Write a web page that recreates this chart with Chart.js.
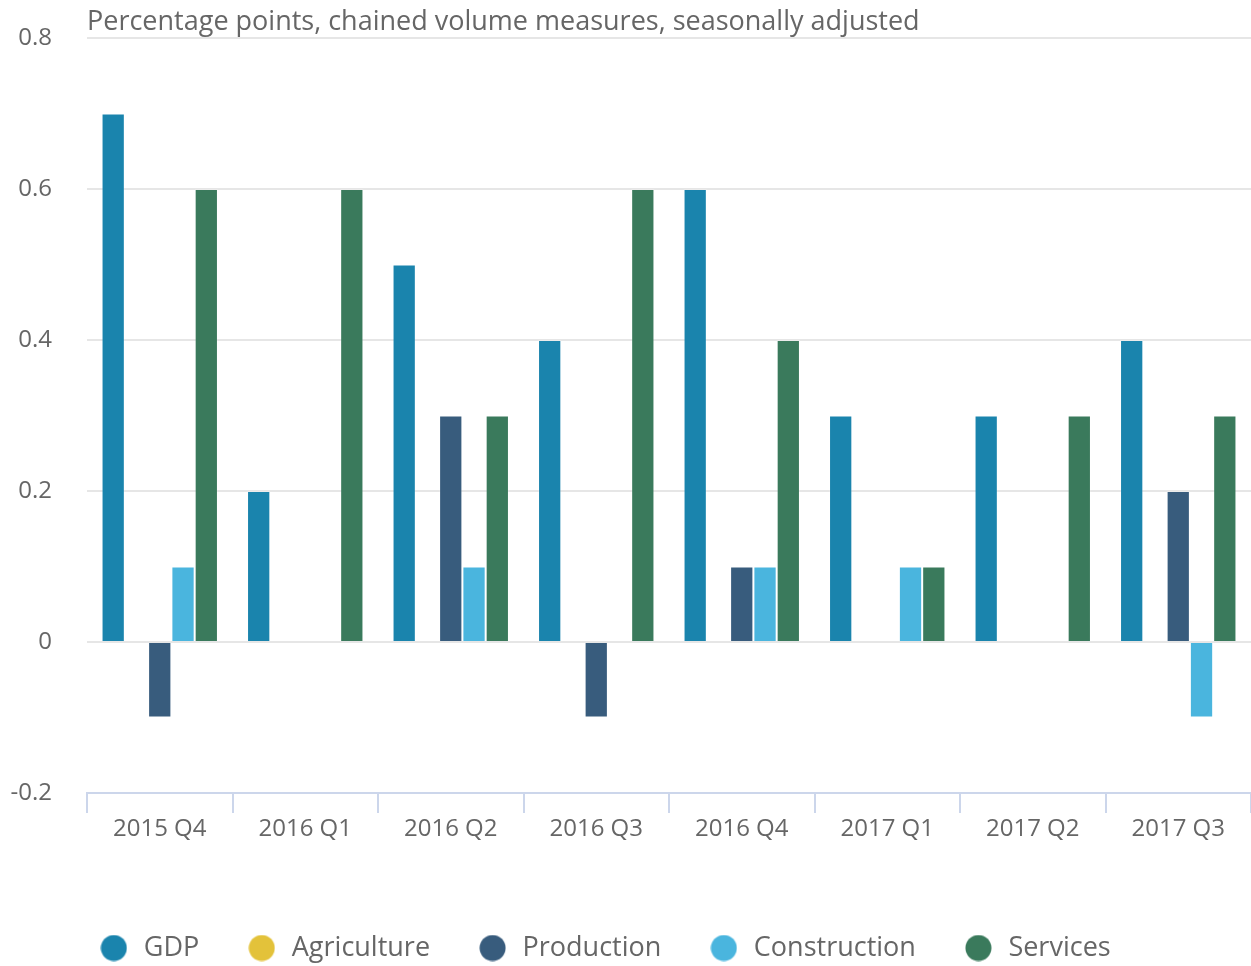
<!DOCTYPE html>
<html>
<head>
<meta charset="utf-8">
<script src="https://cdn.jsdelivr.net/npm/chart.js@4/dist/chart.umd.min.js"></script>
<style>
  html, body { margin: 0; padding: 0; background: #fff; }
  #wrap { width: 1251px; height: 966px; }
</style>
</head>
<body>
<div id="wrap"><canvas id="chart" width="1251" height="966"></canvas></div>
<script>
// values
const categories = ['2015 Q4', '2016 Q1', '2016 Q2', '2016 Q3', '2016 Q4', '2017 Q1', '2017 Q2', '2017 Q3'];
const gdp = [0.7, 0.2, 0.5, 0.4, 0.6, 0.3, 0.3, 0.4];
const agriculture = [0, 0, 0, 0, 0, 0, 0, 0];
const production = [-0.1, 0, 0.3, -0.1, 0.1, 0, 0, 0.2];
const construction = [0.1, 0, 0.1, 0, 0.1, 0.1, 0, -0.1];
const services = [0.6, 0.6, 0.3, 0.6, 0.4, 0.1, 0.3, 0.3];
const seriesNames = ['GDP', 'Agriculture', 'Production', 'Construction', 'Services'];
const yTicks = [-0.2, 0, 0.2, 0.4, 0.6, 0.8];
const unitsTitle = 'Percentage points, chained volume measures, seasonally adjusted';

const COLORS = ['#1a84ad', '#e3c23a', '#385c7d', '#4ab5de', '#3a7a5c'];
const FONT = "'Open Sans', 'Noto Sans', sans-serif";
const TEXT = '#666666';

const seriesData = [gdp, agriculture, production, construction, services];

const datasets = seriesNames.map((name, i) => ({
  label: name,
  data: seriesData[i],
  backgroundColor: COLORS[i],
  borderColor: 'rgba(255,255,255,0.2)',
  borderWidth: 1,
  categoryPercentage: 0.8,
  barPercentage: 1.0,
}));

// round legend markers as small canvases, so the gap to the text can be wider
function dot(color) {
  const c = document.createElement('canvas');
  c.width = 27; c.height = 27;
  const g = c.getContext('2d');
  g.fillStyle = color;
  g.beginPath();
  g.arc(13.5, 13.5, 13, 0, Math.PI * 2);
  g.fill();
  return c;
}
const dots = COLORS.map(dot);

// title in the top left corner, above the plot
const unitsPlugin = {
  id: 'unitsTitle',
  afterDraw(chart) {
    const ctx = chart.ctx;
    ctx.save();
    ctx.font = '27px ' + FONT;
    ctx.fillStyle = TEXT;
    ctx.textAlign = 'left';
    ctx.textBaseline = 'alphabetic';
    ctx.fillText(unitsTitle, chart.chartArea.left, 30);
    ctx.restore();
  }
};

// legend sits low on the canvas, slightly left of centre
const legendPlace = {
  id: 'legendPlace',
  beforeLayout(chart) {
    const lg = chart.legend;
    if (lg && !lg._patched) {
      const fit = lg.fit;
      lg.fit = function () {
        fit.call(this);
        this.height = 77.5;
      };
      lg._patched = true;
    }
  },
  afterLayout(chart) {
    const lg = chart.legend;
    if (lg) {
      lg.left -= 23;
      lg.right -= 23;
    }
  }
};

new Chart(document.getElementById('chart'), {
  type: 'bar',
  data: { labels: categories, datasets: datasets },
  plugins: [unitsPlugin, legendPlace],
  options: {
    responsive: false,
    animation: false,
    devicePixelRatio: 1,
    layout: { padding: { top: 38, right: -3, bottom: 0, left: 0 } },
    plugins: {
      title: { display: false },
      tooltip: { enabled: false },
      legend: {
        position: 'bottom',
        labels: {
          usePointStyle: true,
          pointStyleWidth: 33,
          boxHeight: 18,
          padding: 46,
          color: TEXT,
          font: { family: FONT, size: 27 },
          generateLabels(chart) {
            const items = Chart.defaults.plugins.legend.labels.generateLabels(chart);
            items.forEach((it, i) => { it.pointStyle = dots[i]; });
            return items;
          }
        }
      }
    },
    scales: {
      x: {
        grid: {
          display: true,
          drawOnChartArea: false,
          drawTicks: true,
          tickLength: 20,
          color: '#ccd6eb',
          lineWidth: 2,
          offset: true,
        },
        border: { display: true, color: '#ccd6eb', width: 2 },
        ticks: {
          color: TEXT,
          font: { family: FONT, size: 24 },
          padding: 2,
          maxRotation: 0,
        },
        afterFit(scale) { scale.height = 95.5; }
      },
      y: {
        min: -0.2,
        max: 0.8,
        afterBuildTicks(scale) { scale.ticks = yTicks.map(v => ({ value: v })); },
        grid: {
          color: '#e6e6e6',
          lineWidth: 2,
          drawTicks: true,
          tickLength: 35,
          tickColor: 'rgba(0,0,0,0)',
        },
        border: { display: false },
        ticks: {
          color: TEXT,
          font: { family: FONT, size: 24 },
          padding: 0,
          callback(v) { return String(Math.round(v * 10) / 10); }
        },
        afterFit(scale) { scale.width = 87; }
      }
    }
  }
});
</script>
</body>
</html>
